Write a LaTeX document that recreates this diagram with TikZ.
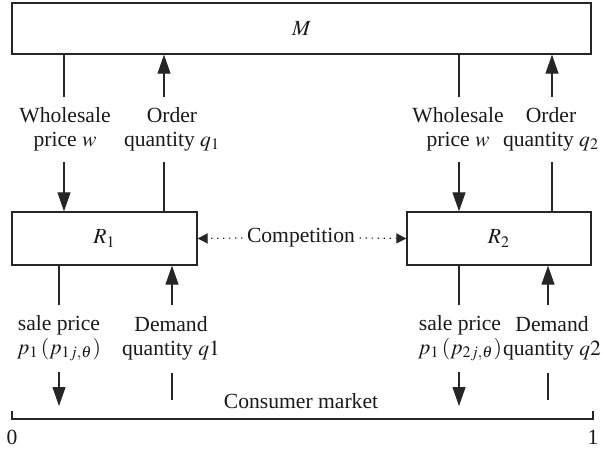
\documentclass[tikz,border=0pt]{standalone}
\usepackage{mathptmx}
\usepackage{fontspec}
\setmainfont{Liberation Serif}
\usetikzlibrary{arrows.meta}

\begin{document}
\begin{tikzpicture}[
    x=0.5pt, y=-0.5pt,
    line width=0.6pt, draw=black!85,
    every node/.style={font=\fontsize{10.8}{12}\selectfont, text=black!90},
    agentbox/.style={rectangle, draw=black!85, line width=0.7pt, inner sep=0pt},
    flowlabel/.style={align=center, inner sep=0pt},
    flowarr/.style={-{Triangle[length=9.5pt, width=6.5pt]}},
    comparr/.style={-{Triangle[length=5pt, width=5pt]}, dash pattern=on 0.7pt off 2.3pt}
  ]
    \useasboundingbox (0,0) rectangle (603,449);

    % Agents
    \node[agentbox, minimum width=289.5pt, minimum height=25.5pt] (M) at (301.5,28.5) {$M$};
    \node[agentbox, minimum width=92.5pt, minimum height=26.5pt] (R1) at (104.5,238.5) {$R_1$};
    \node[agentbox, minimum width=92pt, minimum height=26.5pt] (R2) at (499,238.5) {$R_2$};
    \node[inner sep=2pt] (comp) at (301,238) {Competition};

    % Labels between M and retailers
    \node[flowlabel] (wp1) at (65,129) {Wholesale\\price $w$};
    \node[flowlabel] (oq1) at (172,129) {Order\\quantity $q_1$};
    \node[flowlabel] (wp2) at (458,129) {Wholesale\\price $w$};
    \node[flowlabel] (oq2) at (551,129) {Order\\quantity $q_2$};

    % Labels between retailers and market
    \node[flowlabel] (sp1) at (59,338) {sale price\\$p_1\,(p_{1j,\theta})$};
    \node[flowlabel] (dq1) at (171,338) {Demand\\quantity $q1$};
    \node[flowlabel] (sp2) at (460,338) {sale price\\$p_1\,(p_{2j,\theta})$};
    \node[flowlabel] (dq2) at (552,338) {Demand\\quantity $q2$};
    \node (mkt) at (301,401) {Consumer market};

    % Free ends of the connectors
    \coordinate (w1a) at (64,97);   \coordinate (w1b) at (64,162);
    \coordinate (o1a) at (164,97);  \coordinate (o1b) at (164,162);
    \coordinate (w2a) at (459,97);  \coordinate (w2b) at (459,162);
    \coordinate (o2a) at (552,97);  \coordinate (o2b) at (552,162);
    \coordinate (s1a) at (59,305);  \coordinate (s1b) at (59,372);  \coordinate (s1c) at (59,406);
    \coordinate (d1a) at (172,305); \coordinate (d1b) at (172,373); \coordinate (d1c) at (172,400);
    \coordinate (s2a) at (459,305); \coordinate (s2b) at (459,372); \coordinate (s2c) at (459,406);
    \coordinate (d2a) at (548,305); \coordinate (d2b) at (548,373); \coordinate (d2c) at (548,400);

    % M <-> retailers
    \draw (M.south -| w1a) -- (w1a);
    \draw[flowarr] (w1b) -- (R1.north -| w1b);
    \draw[flowarr] (o1a) -- (M.south -| o1a);
    \draw (R1.north -| o1b) -- (o1b);
    \draw (M.south -| w2a) -- (w2a);
    \draw[flowarr] (w2b) -- (R2.north -| w2b);
    \draw[flowarr] (o2a) -- (M.south -| o2a);
    \draw (R2.north -| o2b) -- (o2b);

    % Retailers <-> market
    \draw (R1.south -| s1a) -- (s1a);
    \draw[flowarr] (s1b) -- (s1c);
    \draw[flowarr] (d1a) -- (R1.south -| d1a);
    \draw (d1b) -- (d1c);
    \draw (R2.south -| s2a) -- (s2a);
    \draw[flowarr] (s2b) -- (s2c);
    \draw[flowarr] (d2a) -- (R2.south -| d2a);
    \draw (d2b) -- (d2c);

    % Competition
    \draw[comparr] (comp.west) -- (R1.east);
    \draw[comparr] (comp.east) -- (R2.west);

    % Market interval
    \coordinate (bl) at (12,419);
    \coordinate (br) at (593,419);
    \draw ([yshift=4pt]bl) -- (bl) -- (br) -- ([yshift=4pt]br);
    \node (z0) at (12,437) {0};
    \node (z1) at (593,437) {1};

  \end{tikzpicture}
\end{document}
